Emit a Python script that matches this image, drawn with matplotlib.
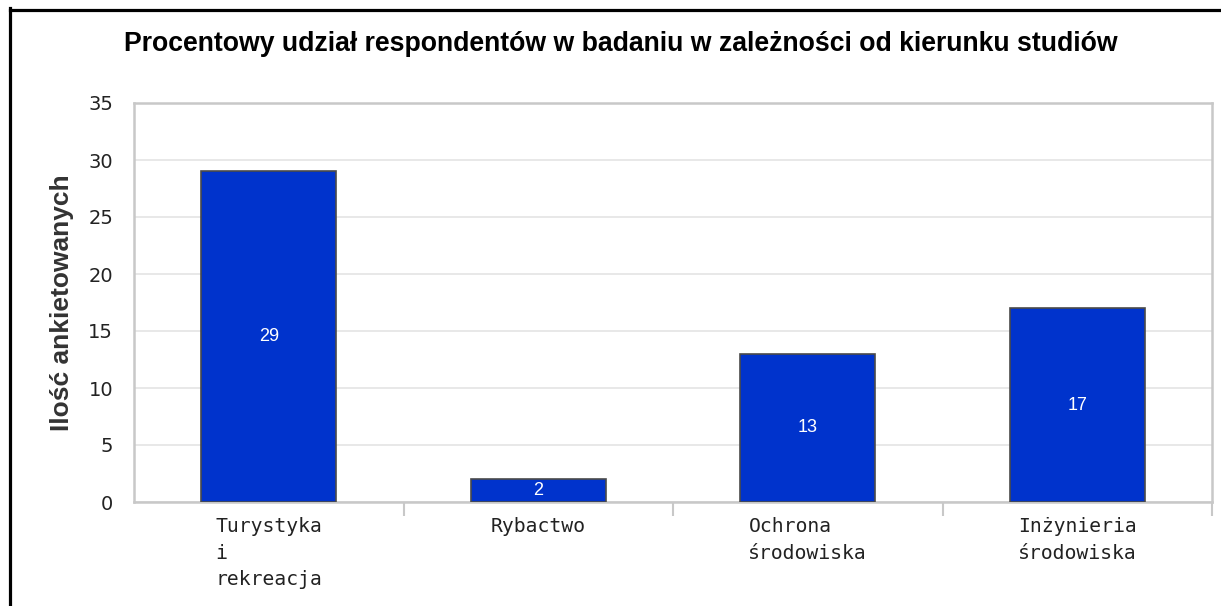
import numpy as np
from matplotlib import pyplot as plt
from matplotlib.lines import Line2D

kierunki = ['Turystyka\ni\nrekreacja', 'Rybactwo', 'Ochrona\nśrodowiska', 'Inżynieria\nśrodowiska']
ilosc = [29, 2, 13, 17]
y_ticks = [0, 5, 10, 15, 20, 25, 30, 35]

W, H = 1221, 606
fig = plt.figure(figsize=(W / 100, H / 100), dpi=100)
ax = fig.add_axes([134 / W, 1 - 502 / H, (1212 - 134) / W, (502 - 103) / H])

x = np.arange(len(ilosc))
bars = ax.bar(x, ilosc, width=0.5, color='#0033cc', edgecolor='#4a4a4a', linewidth=1.2, zorder=3)

# wartości w środku słupków
for b, v in zip(bars, ilosc):
    ax.text(b.get_x() + b.get_width() / 2, v / 2, str(v), ha='center', va='center',
            color='white', fontsize=13, family='Liberation Sans', zorder=4)

ax.set_xlim(-0.5, len(ilosc) - 0.5)
ax.set_ylim(0, 35)
ax.set_yticks(y_ticks)
ax.tick_params(axis='y', length=0, pad=15, labelsize=14, labelcolor='#222222')
ax.yaxis.grid(True, color='#e6e6e6', linewidth=1.3, zorder=0)

ax.set_xticks(x)
ax.set_xticklabels(kierunki, fontsize=14.2, family='DejaVu Sans Mono', color='#222222',
                   linespacing=1.5, multialignment='left', va='top')
ax.tick_params(axis='x', which='major', length=0, pad=11)
ax.set_xticks(np.arange(len(ilosc)) + 0.5, minor=True)
ax.tick_params(axis='x', which='minor', length=10, width=1.5, color='#c8c8c8')

for s in ax.spines.values():
    s.set_color('#c8c8c8')
    s.set_linewidth(1.8)

ax.set_ylabel('Ilość ankietowanych', fontsize=19, fontweight='bold',
              family='Liberation Sans', color='#333333', labelpad=10)

fig.text(621 / W, 1 - 44 / H, 'Procentowy udział respondentów w badaniu w zależności od kierunku studiów',
         ha='center', va='center', fontsize=19.2, fontweight='bold', family='Liberation Sans', color='black')

# czarna ramka (góra i lewa strona)
fig.add_artist(Line2D([9.5 / W, 1], [1 - 9.5 / H, 1 - 9.5 / H], color='black', linewidth=2.3,
                      transform=fig.transFigure))
fig.add_artist(Line2D([9.5 / W, 9.5 / W], [0, 1 - 8 / H], color='black', linewidth=2.3,
                      transform=fig.transFigure))

fig.savefig('out.png', dpi=100, facecolor='white')
